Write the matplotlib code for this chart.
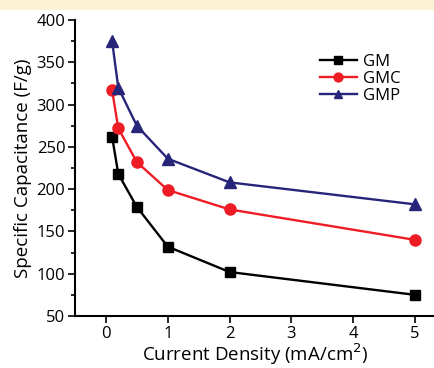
import matplotlib
matplotlib.use('Agg')
import matplotlib.pyplot as plt
from matplotlib.patches import Rectangle
from matplotlib.ticker import MultipleLocator

# 电流密度与比电容数据
current_density = [0.1, 0.2, 0.5, 1, 2, 5]
cap_gm = [262, 218, 179, 132, 102, 75]
cap_gmc = [317, 272, 232, 199, 176, 140]
cap_gmp = [375, 320, 275, 236, 208, 182]

plt.rcParams['font.family'] = ['Open Sans', 'DejaVu Sans']

fig = plt.figure(figsize=(4.35, 3.68), dpi=100)
# 顶部浅黄色条带
fig.patches.append(Rectangle((0, 1 - 10 / 368), 1, 10 / 368, transform=fig.transFigure,
                             facecolor='#fef2d4', edgecolor='none', zorder=0))

ax = fig.add_axes([75 / 435, 52 / 368, 371 / 435, 296 / 368])

ax.plot(current_density, cap_gm, color='black', marker='s', markersize=7, lw=1.7, label='GM')
ax.plot(current_density, cap_gmc, color='#ee1c25', marker='o', markersize=8, lw=1.7, label='GMC')
ax.plot(current_density, cap_gmp, color='#26257a', marker='^', markersize=8, lw=1.7, label='GMP')

ax.set_xlim(-0.5, 5.5)
ax.set_ylim(50, 400)
ax.set_xticks([0, 1, 2, 3, 4, 5])
ax.yaxis.set_major_locator(MultipleLocator(50))
ax.yaxis.set_minor_locator(MultipleLocator(25))
ax.spines['top'].set_visible(False)
ax.spines['right'].set_visible(False)
ax.spines['left'].set_linewidth(1.5)
ax.spines['bottom'].set_linewidth(1.5)
ax.tick_params(axis='both', which='major', length=5, width=1.2, labelsize=12, pad=2)
ax.tick_params(axis='y', which='minor', length=3, width=1.2)

ax.set_ylabel('Specific Capacitance (F/g)', fontsize=13.5, labelpad=3)
ax.set_xlabel('Current Density (mA/cm$^2$)', fontsize=13.5)
ax.xaxis.set_label_coords((255 - 75) / 371, -0.085)

ax.legend(loc='upper left', bbox_to_anchor=(0.62, 0.935), frameon=False, fontsize=12,
          handlelength=2.2, labelspacing=0.05, handletextpad=0.4, markerscale=0.8)

fig.savefig('out.png', dpi=100)
